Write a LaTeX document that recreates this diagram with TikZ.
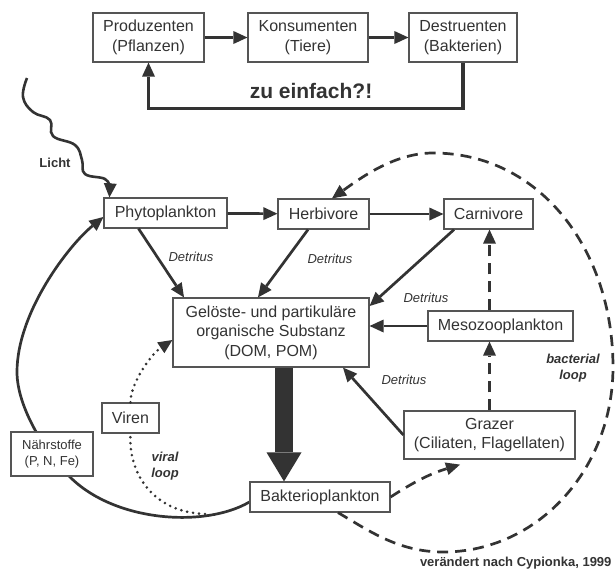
\documentclass[tikz,border=0pt]{standalone}
\usepackage{fontspec}
\setmainfont{Liberation Sans}
\usetikzlibrary{arrows.meta, backgrounds}

\definecolor{ink}{HTML}{333333}
\definecolor{frame}{HTML}{555555}

\tikzset{
  box/.style={draw=frame, line width=1.2pt, fill=white, inner sep=0pt, align=center,
    text=ink, font=\fontsize{16}{19.5}\selectfont},
  smallbox/.style={box, font=\fontsize{13}{16}\selectfont},
  flow/.style={draw=ink, line width=2.7pt, ->},
  topflow/.style={flow, line width=3.3pt},
  loopline/.style={flow, dash pattern=on 11pt off 7pt},
  dotline/.style={draw=ink, line width=2.9pt, line cap=round, dash pattern=on 0pt off 6pt},
  detritus/.style={font=\fontsize{13}{15}\selectfont\itshape, text=ink},
  tag/.style={font=\fontsize{13}{16}\selectfont\bfseries\itshape, text=ink, align=center},
}

\begin{document}
\begin{tikzpicture}[x=1pt, y=-1pt, >={Triangle[length=14pt,width=13pt,line width=0pt]}]
  \useasboundingbox (0,0) rectangle (616,574);

  % simple chain
  \node[box, minimum width=111pt, minimum height=49pt] (prod) at (148.5,37.5) {Produzenten\\(Pflanzen)};
  \node[box, minimum width=120pt, minimum height=49pt] (kons) at (308,37.5) {Konsumenten\\(Tiere)};
  \node[box, minimum width=108pt, minimum height=49pt] (destr) at (463,37.5) {Destruenten\\(Bakterien)};
  \node[font=\fontsize{21}{24}\selectfont\bfseries, text=ink] (simple) at (311,90.5) {zu einfach?!};

  \draw[topflow] (prod) -- (kons);
  \draw[topflow] (kons) -- (destr);
  \draw[topflow] (destr.south) -- ++(0,46) -| (prod.south);

  % food web
  \node[box, minimum width=123pt, minimum height=30pt] (phyto) at (165.5,213) {Phytoplankton};
  \node[box, minimum width=91pt, minimum height=30pt] (herb) at (323.5,214) {Herbivore};
  \node[box, minimum width=89pt, minimum height=30pt] (carn) at (488.5,214) {Carnivore};
  \node[box, minimum width=196pt, minimum height=69pt] (dom) at (271,332.5)
    {Gelöste- und partikuläre\\organische Substanz\\(DOM, POM)};
  \node[box, minimum width=145pt, minimum height=30pt] (meso) at (500.5,326) {Mesozooplankton};
  \node[box, minimum width=171pt, minimum height=48pt] (grazer) at (489.5,435) {Grazer\\(Ciliaten, Flagellaten)};
  \node[box, minimum width=140pt, minimum height=30pt] (bakt) at (320,497) {Bakterioplankton};
  \node[box, minimum width=57pt, minimum height=30pt] (viren) at (130.5,418) {Viren};
  \node[smallbox, minimum width=82pt, minimum height=44pt] (naehr) at (52,454) {Nährstoffe\\(P, N, Fe)};

  \coordinate (sun) at (27,78);
  \coordinate (vstart) at (205,514);

  % light
  \node[font=\fontsize{13}{15}\selectfont\bfseries, text=ink] (licht) at (55,163) {Licht};
  \draw[flow, line width=2.6pt] plot[smooth, tension=0.7] coordinates {(sun) (23,97) (33,112) (50,120)
    (53,136) (75,145) (82,160) (85,174) (105,179) (110,188)} -- ([xshift=6pt]phyto.north west);

  \draw[flow] (phyto) -- (herb);
  \draw[flow] (herb) -- (carn);
  \draw[flow] ([xshift=-27pt]phyto.south) -- ([xshift=-87pt]dom.north);
  \draw[flow] ([xshift=-15.5pt]herb.south) -- ([xshift=-13pt]dom.north);
  \draw[flow] ([xshift=-34.5pt]carn.south) -- ([yshift=26.5pt]dom.east);
  \draw[flow] (meso.west) -- (meso.west -| dom.east);
  \draw[flow] (grazer.west) -- ([xshift=72pt]dom.south);
  \draw[loopline] (meso.north -| grazer) -- (carn.south -| grazer);
  \draw[loopline] (grazer.north) -- (meso.south -| grazer);
  \draw[loopline] (bakt.east) to[bend left=8] ([xshift=-29.5pt,yshift=-5pt]grazer.south);

  \node[detritus] (det1) at (191,257) {Detritus};
  \node[detritus] (det2) at (330,259) {Detritus};
  \node[detritus] (det3) at (426,298) {Detritus};
  \node[detritus] (det4) at (404,380) {Detritus};

  % DOM -> bacteria
  \draw[draw=ink, line width=18pt, -{Triangle[length=29pt,width=35pt,line width=0pt]}]
    ([xshift=13pt]dom.south) -- ([xshift=-36pt]bakt.north);

  % bacterial loop
  \draw[loopline] ([xshift=18pt]bakt.south) .. controls (368,530) and (398,552) .. (443,552)
    .. controls (538,552) and (613,469) .. (613,367)
    .. controls (613,250) and (540,153) .. (433,153)
    .. controls (395,153) and (362,177) .. ([xshift=8.5pt]herb.north);
  \node[tag] (bactag) at (573,368) {bacterial\\loop};

  % nutrients back to phytoplankton
  \begin{scope}[on background layer]
    \draw[flow] ([yshift=-5pt]bakt.west) .. controls (205,528) and (115,522) .. (70,477)
      .. controls (45,452) and (17,407) .. (17,372)
      .. controls (17,312) and (69,245) .. ([yshift=-4pt]phyto.west);
  \end{scope}

  % viral loop
  \draw[dotline] (vstart) .. controls (150,512) and (128,470) .. (viren.south);
  \draw[dotline, ->] (viren.north) .. controls (130,385) and (150,355) .. ([yshift=-7.5pt]dom.west);
  \node[tag] (virtag) at (165,466) {viral\\loop};

  \node[anchor=east, font=\fontsize{13}{15}\selectfont\bfseries, text=ink] (credit) at (615,563)
    {verändert nach Cypionka, 1999};
\end{tikzpicture}
\end{document}
